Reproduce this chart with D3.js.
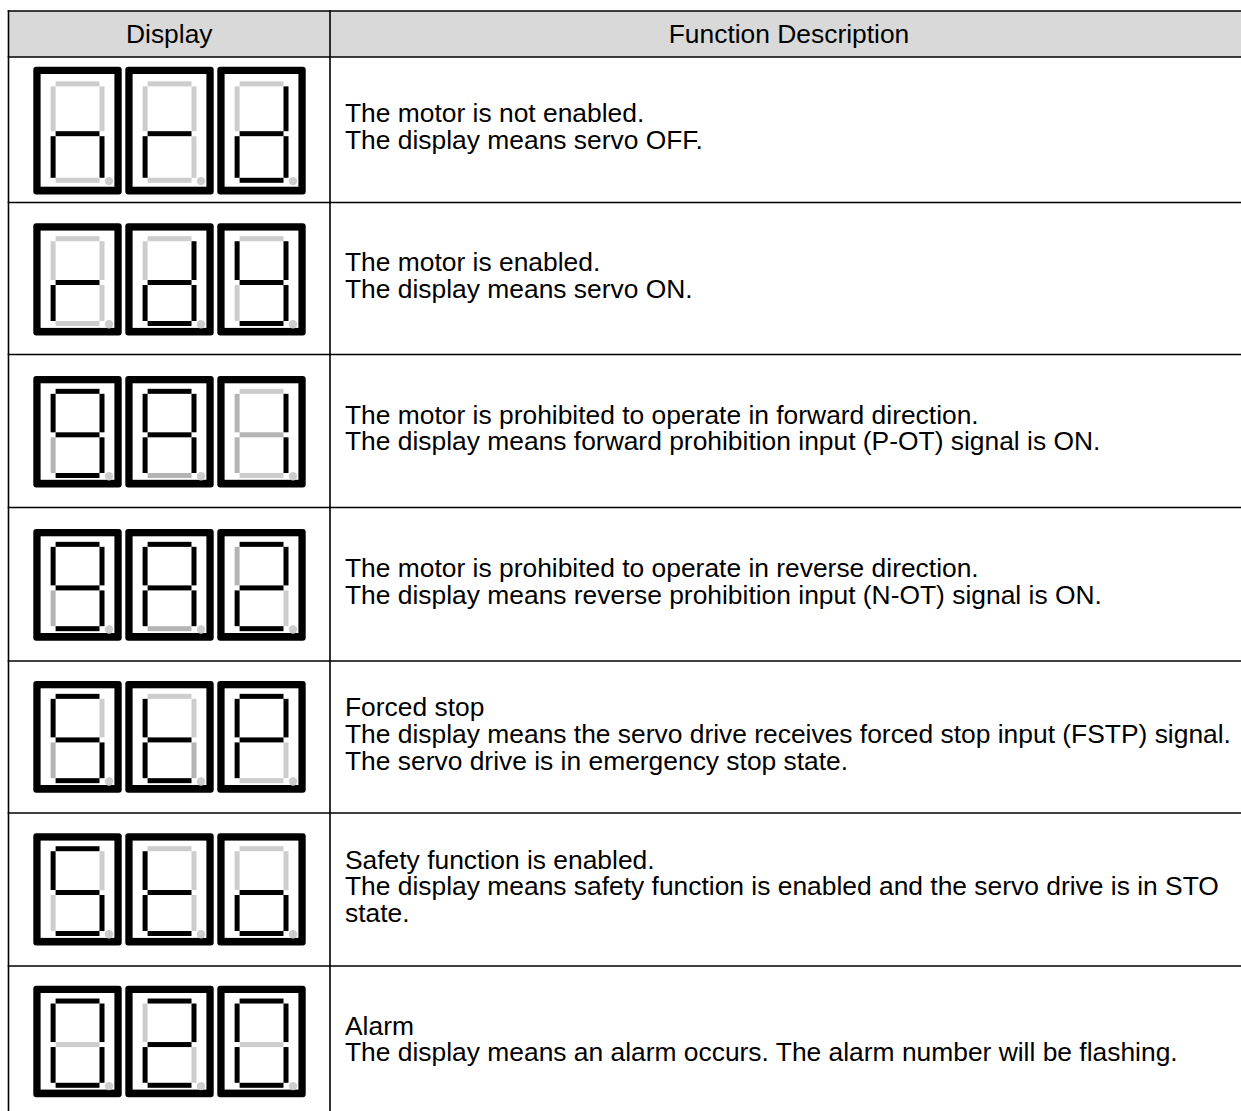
<!DOCTYPE html>
<html>
<head>
<meta charset="utf-8">
<script src="https://cdn.jsdelivr.net/npm/d3@7"></script>
<style>
  html, body { margin: 0; padding: 0; background: #fff; }
  svg { display: block; }
  text { font-family: "Liberation Sans", Arial, sans-serif; fill: #000; }
</style>
</head>
<body>
<svg id="chart" width="1241" height="1111"></svg>
<script>
// ---------- data ----------
const headers = ["Display", "Function Description"];

// each digit: segment states in order A B C D E F G
// "1" = lit, "0" = off (light grey), "2" = off (darker grey)
const row1Digits = ["0010101", "0000101", "0111101"];          // n r d
const row2Digits = ["0000101", "0111101", "0111011"];          // r d y
const row3Digits = ["1111211", "1112111", "0110222"];          // 9 A 1
const row4Digits = ["1111211", "1112111", "1101121"];          // 9 A 2
const row5Digits = ["1011211", "0021111", "1100111"];          // S t P
const row6Digits = ["1011011", "0001111", "0011101"];          // S t o
const row7Digits = ["1111110", "1101101", "1111110"];          // 0 2 0

const row1Text = ["The motor is not enabled.", "The display means servo OFF."];
const row2Text = ["The motor is enabled.", "The display means servo ON."];
const row3Text = ["The motor is prohibited to operate in forward direction.",
                  "The display means forward prohibition input (P-OT) signal is ON."];
const row4Text = ["The motor is prohibited to operate in reverse direction.",
                  "The display means reverse prohibition input (N-OT) signal is ON."];
const row5Text = ["Forced stop",
                  "The display means the servo drive receives forced stop input (FSTP) signal.",
                  "The servo drive is in emergency stop state."];
const row6Text = ["Safety function is enabled.",
                  "The display means safety function is enabled and the servo drive is in STO",
                  "state."];
const row7Text = ["Alarm",
                  "The display means an alarm occurs. The alarm number will be flashing."];

const rowDigits = [row1Digits, row2Digits, row3Digits, row4Digits, row5Digits, row6Digits, row7Digits];
const rowTexts  = [row1Text, row2Text, row3Text, row4Text, row5Text, row6Text, row7Text];

// ---------- layout ----------
const svg = d3.select("#chart");
const tableLeft = 8.5, colSplit = 330, tableRight = 1248;
const headerTop = 11, headerBottom = 57;
const rowLines = [57, 202.5, 354.5, 507.5, 661, 813, 966, 1118];
const digitTops = [66.7, 223.3, 376, 529, 681, 833.3, 985.7];
const digitHeights = [127.7, 112.3, 111.5, 111.7, 111.7, 112.3, 111.6];
const digitLefts = [33.3, 125.3, 217.3];
const digitW = 88.4;
const fontSize = 26.4, lineGap = 26.8, capH = 17.9;
const colors = { "1": "#000000", "0": "#cdcdcd", "2": "#b4b4b4" };

// header
svg.append("rect").attr("x", tableLeft).attr("y", headerTop)
  .attr("width", tableRight - tableLeft).attr("height", headerBottom - headerTop)
  .attr("fill", "#d9d9d9");

const colX = d3.scaleOrdinal().domain(headers).range([(tableLeft + colSplit) / 2, (colSplit + tableRight) / 2]);
svg.selectAll("text.hdr").data(headers).join("text")
  .attr("class", "hdr")
  .attr("x", d => colX(d))
  .attr("y", (headerTop + headerBottom) / 2 + capH / 2)
  .attr("text-anchor", "middle")
  .attr("font-size", fontSize)
  .text(d => d);

// segment geometry (relative to frame)
function segRects(h) {
  const t = 5, xl = 17.3, xr = 66.2, hx = xl + t, hw = xr - hx;
  const yA = 0.115 * h, yG = 0.505 * h, yD = 0.87 * h;
  return [
    { x: hx, y: yA, w: hw, h: t },                 // A
    { x: xr, y: yA + t, w: t, h: yG - yA - t },    // B
    { x: xr, y: yG + t, w: t, h: yD - yG - t },    // C
    { x: hx, y: yD, w: hw, h: t },                 // D
    { x: xl, y: yG + t, w: t, h: yD - yG - t },    // E
    { x: xl, y: yA + t, w: t, h: yG - yA - t },    // F
    { x: hx, y: yG, w: hw, h: t }                  // G
  ];
}

rowDigits.forEach((digits, ri) => {
  const h = digitHeights[ri];
  const segs = segRects(h);
  const g = svg.append("g").attr("class", "row");
  digits.forEach((code, di) => {
    const dg = g.append("g").attr("transform", `translate(${digitLefts[di]},${digitTops[ri]})`);
    dg.append("rect").attr("width", digitW).attr("height", h).attr("rx", 3).attr("fill", "#000");
    dg.append("rect").attr("x", 7.3).attr("y", 7.3).attr("width", digitW - 14.6).attr("height", h - 15)
      .attr("fill", "#fff");
    dg.selectAll("rect.seg").data(code.split("").map((c, i) => ({ c, s: segs[i] }))).join("rect")
      .attr("class", "seg")
      .attr("x", d => d.s.x).attr("y", d => d.s.y)
      .attr("width", d => d.s.w).attr("height", d => d.s.h)
      .attr("fill", d => colors[d.c]);
    dg.append("circle").attr("cx", 75.7).attr("cy", 0.87 * h + 3.3).attr("r", 4.2).attr("fill", "#cdcdcd");
  });

  // description text (one text element, one tspan per line)
  const lines = rowTexts[ri];
  const mid = (rowLines[ri] + rowLines[ri + 1]) / 2 - 3;
  const firstBase = mid - (lines.length - 1) * lineGap / 2 + capH / 2;
  const txt = g.append("text").attr("font-size", fontSize);
  txt.selectAll("tspan").data(lines).join("tspan")
    .attr("x", colSplit + 15)
    .attr("y", (d, i) => firstBase + i * lineGap)
    .text(d => d);
});

// grid lines
const lineG = svg.append("g").attr("stroke", "#000").attr("stroke-width", 1.6);
lineG.selectAll("line.h").data([headerTop].concat(rowLines)).join("line")
  .attr("class", "h").attr("x1", tableLeft - 0.8).attr("x2", tableRight)
  .attr("y1", d => d).attr("y2", d => d);
lineG.selectAll("line.v").data([tableLeft, colSplit, tableRight]).join("line")
  .attr("class", "v").attr("x1", d => d).attr("x2", d => d)
  .attr("y1", headerTop - 0.8).attr("y2", rowLines[rowLines.length - 1]);
</script>
</body>
</html>
